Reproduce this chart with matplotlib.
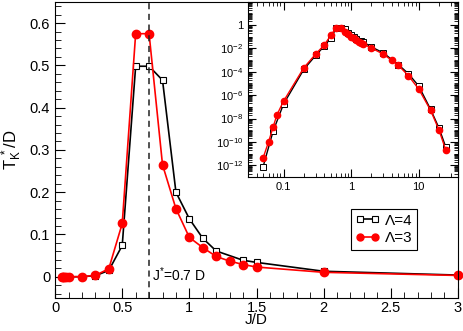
import numpy as np
import matplotlib
matplotlib.use('Agg')
import matplotlib.pyplot as plt
from matplotlib.ticker import MultipleLocator, LogLocator, NullFormatter

plt.rcParams['font.family'] = ['Liberation Sans', 'DejaVu Sans']
plt.rcParams['mathtext.fontset'] = 'custom'
plt.rcParams['mathtext.rm'] = 'Liberation Sans'
plt.rcParams['mathtext.it'] = 'Liberation Sans'

# Lambda = 4 (black squares)
J4 = [0.05, 0.07, 0.1, 0.2, 0.3, 0.4, 0.5, 0.6, 0.7, 0.8, 0.9, 1.0, 1.1, 1.2,
      1.4, 1.5, 2, 3, 5, 7, 10, 15, 20, 25]
T4 = [8e-13, 8e-10, 1.7e-7, 1.6e-4, 2.5e-3, 0.015, 0.074, 0.498, 0.498, 0.465,
      0.2, 0.137, 0.091, 0.061, 0.039, 0.034, 0.013, 0.004, 4e-4, 7e-5, 6e-6,
      6e-8, 1.5e-9, 4e-11]

# Lambda = 3 (red circles)
J3 = [0.05, 0.06, 0.07, 0.08, 0.1, 0.2, 0.3, 0.4, 0.5, 0.6, 0.7, 0.8, 0.9, 1.0,
      1.1, 1.2, 1.3, 1.4, 1.5, 2, 3, 4, 5, 7, 10, 15, 20, 25]
T3 = [4.5e-12, 1e-10, 1.8e-9, 2.1e-8, 3e-7, 2.2e-4, 3.3e-3, 0.019, 0.126, 0.575,
      0.575, 0.265, 0.161, 0.093, 0.069, 0.048, 0.037, 0.029, 0.023, 0.0105,
      0.0031, 9.3e-4, 3.5e-4, 4.7e-5, 3.3e-6, 5e-8, 1e-9, 2.2e-11]

Jstar = 0.7

J4 = np.array(J4); T4 = np.array(T4)
J3 = np.array(J3); T3 = np.array(T3)

fig = plt.figure(figsize=(4.63, 3.31), dpi=100)
ax = fig.add_axes([0.119, 0.1, 0.870, 0.894])

m4 = J4 <= 3
m3 = J3 <= 3
ax.plot(J4[m4], T4[m4], '-s', color='black', mfc='white', mec='black',
        ms=5, lw=1.2, mew=0.8, label='Λ=4', clip_on=False)
ax.plot(J3[m3], T3[m3], '-o', color='red', mfc='red', mec='red',
        ms=6, lw=1.2, label='Λ=3', clip_on=False)
ax.axvline(Jstar, color='#222222', ls='--', lw=1.1, dashes=(4, 3))
ax.text(Jstar + 0.02, 0.005, r'J$^{*}$=0.7 D', fontsize=10, va='center', ha='left')

ax.set_xlim(0, 3)
ax.set_ylim(-0.05, 0.65)
ax.xaxis.set_minor_locator(MultipleLocator(0.1))
ax.yaxis.set_minor_locator(MultipleLocator(0.02))
ax.set_xticks([0, 0.5, 1, 1.5, 2, 2.5, 3])
ax.set_xticklabels(['0', '0.5', '1', '1.5', '2', '2.5', '3'])
ax.set_yticks([0, 0.1, 0.2, 0.3, 0.4, 0.5, 0.6])
ax.set_yticklabels(['0', '0.1', '0.2', '0.3', '0.4', '0.5', '0.6'])
ax.tick_params(which='both', direction='in', labelsize=10.5)
ax.tick_params(axis='x', pad=2)
ax.tick_params(which='major', length=7)
ax.tick_params(which='minor', length=4)
ax.set_xlabel('J/D', fontsize=11, labelpad=-1)
ax.set_ylabel(r'T$_{\rm K}^{\ *}$/D', fontsize=12, labelpad=4)

leg = ax.legend(loc='lower right', bbox_to_anchor=(0.898, 0.162), numpoints=2,
                handlelength=1.6, fontsize=11, fancybox=False, framealpha=1,
                edgecolor='black', borderpad=0.3, labelspacing=0.25,
                handletextpad=0.3, borderaxespad=0)
leg.get_frame().set_linewidth(0.8)
for h in leg.legend_handles:
    h.set_markersize(5)

# inset
ins = fig.add_axes([0.536, 0.465, 0.453, 0.529])
ins.plot(J4, T4, '-s', color='black', mfc='white', mec='black',
         ms=4, lw=1.0, mew=0.7)
ins.plot(J3, T3, '-o', color='red', mfc='red', mec='red', ms=4.5, lw=1.0)
ins.set_xscale('log')
ins.set_yscale('log')
ins.set_xlim(0.03, 38)
ins.set_ylim(1e-13, 9e1)
ins.set_xticks([0.1, 1, 10])
ins.set_xticklabels(['0.1', '1', '10'])
ins.xaxis.set_minor_locator(LogLocator(base=10, subs=np.arange(2, 10)))
ins.xaxis.set_minor_formatter(NullFormatter())
yt = [1e-12, 1e-10, 1e-8, 1e-6, 1e-4, 1e-2, 1]
ins.set_yticks(yt)
ins.set_yticklabels([r'$10^{-12}$', r'$10^{-10}$', r'$10^{-8}$', r'$10^{-6}$',
                     r'$10^{-4}$', r'$10^{-2}$', '1'])
ins.yaxis.set_minor_locator(LogLocator(base=10, subs=np.arange(1, 10), numticks=30))
ins.yaxis.set_minor_formatter(NullFormatter())
ins.tick_params(which='both', direction='in', top=True, right=True, labelsize=8)
ins.tick_params(which='major', length=6)
ins.tick_params(which='minor', length=3)

fig.savefig('out.png', dpi=100)
